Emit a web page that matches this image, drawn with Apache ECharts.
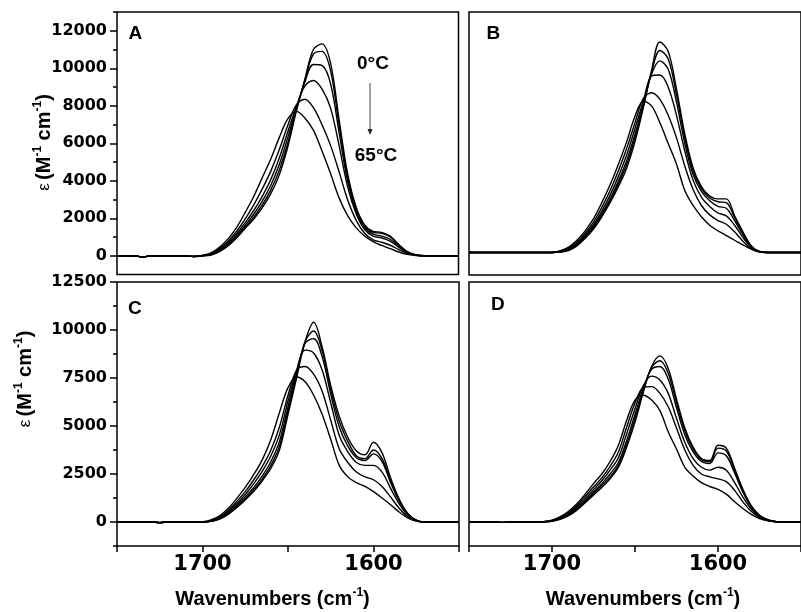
<!DOCTYPE html>
<html><head><meta charset="utf-8">
<script src="https://cdn.jsdelivr.net/npm/echarts@6/dist/echarts.min.js"></script>
<style>html,body{margin:0;padding:0;background:#fff}#c{width:801px;height:612px}</style>
</head><body><div id="c"></div>
<script>
// Wavenumbers (cm^-1)
const W = [1750,1745,1740,1735,1730,1725,1720,1715,1710,1705,1700,1695,1690,1685,1680,1675,1670,1665,1660,1655,1650,1645,1640,1635,1630,1625,1620,1615,1610,1605,1600,1595,1590,1585,1580,1575,1570,1565,1560,1555,1550];

// Panel A (0 C -> 65 C)
const A0 = [0,0,0,-60,0,0,0,0,0,-40, 0,40,220,520,950,1450,1950,2550,3300,4300,5800,7700,9400,11000,11300,10300,7300,4400,2600,1650,1300,1250,1050,600,220,40,0, 0,0,0,0];
const A1 = [0,0,0,-60,0,0,0,0,0,-40, 0,50,250,570,1000,1520,2050,2700,3500,4550,6000,7750,9350,10750,10900,9900,7000,4250,2550,1600,1250,1200,1000,580,200,40,0, 0,0,0,0];
const A2 = [0,0,0,-60,0,0,0,0,0,-40, 0,60,290,630,1080,1620,2200,2900,3750,4850,6300,7850,9250,10200,10150,9200,6600,4000,2400,1500,1150,1050,880,520,190,40,0, 0,0,0,0];
const A3 = [0,0,0,-60,0,0,0,0,0,-40, 10,80,330,700,1180,1750,2400,3150,4050,5200,6600,7950,9050,9350,8900,7900,5900,3700,2250,1400,1050,950,780,460,170,35,0, 0,0,0,0];
const A4 = [0,0,0,-60,0,0,0,0,0,-40, 15,100,380,780,1300,1950,2700,3550,4500,5650,6950,8050,8350,7900,7000,5900,4500,3000,1900,1200,850,720,560,330,120,25,0, 0,0,0,0];
const A5 = [0,0,0,-60,0,0,0,0,0,-40, 20,150,450,900,1500,2300,3150,4150,5150,6300,7300,7700,7350,6700,5600,4400,3100,2150,1500,1050,750,550,380,200,70,15,0, 0,0,0,0];

// Panel B
const B0 = [200,200,200,200,200,200,200,200,200,200, 200,220,300,550,950,1450,2100,2850,3700,4700,6100,7900,9900,11400,10900,8900,6500,4700,3700,3200,3050,3050,2150,1300,550,250,200, 200,200,200,200];
const B1 = [200,200,200,200,200,200,200,200,200,200, 200,230,320,580,1000,1500,2150,2950,3850,4900,6300,8000,9800,10950,10500,8600,6300,4550,3600,3100,2900,2850,2050,1250,550,250,200, 200,200,200,200];
const B2 = [200,200,200,200,200,200,200,200,200,200, 200,240,350,620,1050,1580,2250,3050,4000,5100,6500,8100,9700,10400,9950,8200,6000,4350,3450,2950,2650,2550,1900,1150,520,250,200, 200,200,200,200];
const B3 = [200,200,200,200,200,200,200,200,200,200, 200,250,380,680,1120,1680,2400,3250,4250,5400,6800,8250,9600,9650,9000,7500,5600,4050,3150,2650,2300,2150,1650,1000,480,240,200, 200,200,200,200];
const B4 = [200,200,200,200,200,200,200,200,200,200, 200,270,420,750,1220,1820,2600,3500,4550,5750,7100,8400,8700,8350,7500,6300,4800,3550,2700,2200,1900,1700,1300,800,400,230,200, 200,200,200,200];
const B5 = [200,200,200,200,200,200,200,200,200,200, 210,300,480,850,1350,2000,2850,3800,4900,6100,7450,8250,8000,7100,6000,4900,3500,2700,2100,1650,1350,1100,850,600,380,220,200, 200,200,200,200];

// Panel C
const C0 = [0,0,0,0,0,-30,0,0,0,0, 0,30,150,400,750,1150,1600,2150,2800,3750,5600,7500,9400,10400,9100,7100,5500,4400,3700,3500,4150,3600,2300,1200,450,100,0, 0,0,0,0];
const C1 = [0,0,0,0,0,-30,0,0,0,0, 0,40,170,430,800,1200,1680,2250,2950,3950,5800,7600,9400,9950,8900,6900,5250,4200,3450,3300,3750,3300,2150,1150,420,100,0, 0,0,0,0];
const C2 = [0,0,0,0,0,-30,0,0,0,0, 0,50,190,470,860,1300,1800,2400,3150,4200,6000,7750,9300,9550,8600,6650,4950,3950,3350,3200,3550,3150,2050,1100,400,90,0, 0,0,0,0];
const C3 = [0,0,0,0,0,-30,0,0,0,0, 0,60,220,530,950,1430,2000,2650,3450,4550,6300,7900,8950,8800,7900,6200,4500,3650,3100,2950,2950,2600,1750,950,350,80,0, 0,0,0,0];
const C4 = [0,0,0,0,0,-30,0,0,0,0, 0,80,260,600,1060,1580,2200,2900,3750,4950,6600,7900,8100,7700,6800,5300,3800,3100,2600,2350,2200,1850,1300,720,280,60,0, 0,0,0,0];
const C5 = [0,0,0,0,0,-30,0,0,0,0, 10,110,320,700,1220,1800,2480,3250,4300,5700,7000,7550,7300,6600,5600,4300,2950,2350,2050,1850,1580,1250,900,520,220,50,0, 0,0,0,0];

// Panel D
const D0 = [0,0,0,0,-20,0,0,0,0,5, 40,140,330,620,1000,1400,1800,2250,2850,3900,5200,6750,8100,8650,8000,6400,4900,3900,3300,3200,4000,3850,2800,1700,850,350,120, 20,0,0,0];
const D1 = [0,0,0,0,-20,0,0,0,0,10, 50,160,360,660,1060,1480,1900,2350,2950,4050,5400,6850,8050,8400,7750,6200,4750,3800,3250,3150,3850,3700,2700,1650,820,340,110, 20,0,0,0];
const D2 = [0,0,0,0,-20,0,0,0,0,10, 60,180,390,710,1120,1560,2000,2500,3100,4250,5600,6950,7950,8100,7450,5950,4550,3650,3150,3050,3600,3450,2550,1550,780,320,100, 20,0,0,0];
const D3 = [0,0,0,0,-20,0,0,0,0,15, 70,210,440,780,1210,1680,2150,2700,3350,4600,5900,7100,7600,7400,6700,5400,4150,3300,2850,2700,2850,2700,2050,1300,680,280,90, 15,0,0,0];
const D4 = [0,0,0,0,-20,0,0,0,0,15, 80,240,500,860,1330,1820,2300,2900,3650,4950,6200,7000,7050,6700,6000,4900,3750,2950,2500,2350,2250,2100,1650,1050,560,230,80, 15,0,0,0];
const D5 = [0,0,0,0,-20,0,0,0,0,20, 100,280,560,950,1450,2000,2500,3150,4000,5300,6350,6600,6350,5800,4700,3800,2850,2400,2050,1850,1700,1450,1050,700,400,180,60, 10,0,0,0];

// Axis ticks
const yTicksA = [0,2000,4000,6000,8000,10000,12000];
const yMinorA = [1000,3000,5000,7000,9000,11000,13000];
const yTicksC = [0,2500,5000,7500,10000,12500];
const yMinorC = [-1250,1250,3750,6250,8750,11250];
const xTicks = [1750,1700,1650,1600,1550];
const xLabels = [1700,1600];

const chart = echarts.init(document.getElementById('c'), null, {renderer:'canvas'});
const BLK = '#000';
const numFont = {fontFamily:'DejaVu Sans', fontWeight:'bold', color:BLK, formatter:(v)=>String(v)};
const gridBase = {show:true, borderColor:BLK, borderWidth:1.5, backgroundColor:'transparent'};
const grids = [
  Object.assign({left:117, top:12, width:341.5, height:262.5}, gridBase),
  Object.assign({left:469, top:12, width:342, height:263}, gridBase),
  Object.assign({left:117, top:282, width:342, height:264}, gridBase),
  Object.assign({left:469, top:282, width:342, height:264}, gridBase)
];
function xAx(g, ticks){
  return {gridIndex:g, type:'value', position:'bottom', min:1550, max:1750, inverse:true,
    axisLine:{show:false, onZero:false}, splitLine:{show:false},
    axisTick: ticks ? {show:true, customValues:xTicks, length:6, lineStyle:{color:BLK,width:1.5}} : {show:false},
    axisLabel: ticks ? Object.assign({show:true, customValues:xLabels, margin:8, fontSize:21}, numFont) : {show:false}};
}
function yAx(g, min, max, ticks, len, labels){
  return {gridIndex:g, type:'value', position:'left', min:min, max:max,
    axisLine:{show:false, onZero:false}, splitLine:{show:false},
    axisTick: ticks ? {show:true, customValues:ticks, length:len, lineStyle:{color:BLK,width:1.5}} : {show:false},
    axisLabel: labels ? Object.assign({show:true, customValues:ticks, margin:10, fontSize:16}, numFont) : {show:false}};
}
const xAxis = [xAx(0,false), xAx(1,false), xAx(2,true), xAx(3,true)];
const yAxis = [
  yAx(0,-1000,13000,yTicksA,7,true),
  yAx(0,-1000,13000,yMinorA,4,false),
  yAx(1,-1000,13000,null,0,false),
  yAx(2,-1250,12500,yTicksC,7,true),
  yAx(2,-1250,12500,yMinorC,4,false),
  yAx(3,-1250,12500,null,0,false)
];
const panels = [
  {xi:0, yi:0, curves:[A0,A1,A2,A3,A4,A5]},
  {xi:1, yi:2, curves:[B0,B1,B2,B3,B4,B5]},
  {xi:2, yi:3, curves:[C0,C1,C2,C3,C4,C5]},
  {xi:3, yi:5, curves:[D0,D1,D2,D3,D4,D5]}
];
const series = [];
panels.forEach(p => p.curves.forEach(arr => {
  series.push({type:'line', xAxisIndex:p.xi, yAxisIndex:p.yi, data:W.map((w,i)=>[w,arr[i]]),
    smooth:0.35, symbol:'none', silent:true, clip:true,
    lineStyle:{color:BLK, width:1.4}});
}));

const letterFont = 'bold 19px "Liberation Sans"';
const supRich = {
  b:{fontFamily:'Liberation Sans', fontWeight:'bold', fontSize:20, lineHeight:24, color:BLK},
  e:{fontFamily:'Liberation Sans', fontWeight:'normal', fontSize:17, lineHeight:24, color:BLK},
  s:{fontFamily:'Liberation Sans', fontWeight:'bold', fontSize:12, lineHeight:12, verticalAlign:'top', color:BLK}
};
function letter(t,x,y){ return {type:'text', x:x, y:y, style:{text:t, font:letterFont, fill:BLK, align:'left', verticalAlign:'middle'}}; }
function xTitle(cx){ return {type:'text', x:cx, y:599, style:{text:'{b|Wavenumbers (cm}{s|-1}{b|)}', rich:supRich, align:'center', verticalAlign:'middle'}}; }
function yTitle(cx, cy){ return {type:'text', x:cx, y:cy, rotation:Math.PI/2, style:{text:'{e|ε} {b|(M}{s|-1}{b| cm}{s|-1}{b|)}', rich:supRich, align:'center', verticalAlign:'middle'}}; }

const graphic = [
  letter('A',128.5,34), letter('B',486.5,34), letter('C',128,308.5), letter('D',491,305),
  {type:'text', x:373, y:64, style:{text:'0°C', font:letterFont, fill:BLK, align:'center', verticalAlign:'middle'}},
  {type:'text', x:376, y:155.5, style:{text:'65°C', font:letterFont, fill:BLK, align:'center', verticalAlign:'middle'}},
  {type:'line', shape:{x1:370, y1:83, x2:370, y2:130}, style:{stroke:'#444', lineWidth:1}},
  {type:'polygon', shape:{points:[[367.5,129],[372.5,129],[370,135]]}, style:{fill:'#222'}},
  xTitle(272.5), xTitle(643),
  yTitle(44, 142.5), yTitle(25, 379)
];

chart.setOption({animation:false, backgroundColor:'#fff', grid:grids, xAxis:xAxis, yAxis:yAxis, series:series, graphic:graphic});
</script>
</body></html>
